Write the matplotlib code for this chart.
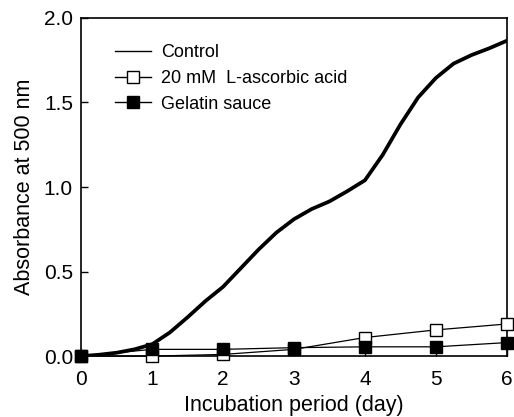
import matplotlib.pyplot as plt
from matplotlib.lines import Line2D

plt.rcParams['font.family'] = ['Liberation Sans', 'DejaVu Sans']

# Control curve (smooth)
ctrl_x = [0, 0.25, 0.5, 0.75, 1.0, 1.25, 1.5, 1.75, 2.0, 2.25, 2.5, 2.75, 3.0,
          3.25, 3.5, 3.75, 4.0, 4.25, 4.5, 4.75, 5.0, 5.25, 5.5, 5.75, 6.0]
ctrl_y = [0.0, 0.008, 0.02, 0.04, 0.07, 0.14, 0.23, 0.325, 0.41, 0.52, 0.63, 0.73, 0.81,
          0.87, 0.915, 0.975, 1.04, 1.19, 1.37, 1.53, 1.645, 1.73, 1.78, 1.82, 1.865]

days = [0, 1, 2, 3, 4, 5, 6]
ascorbic = [0.0, 0.0, 0.01, 0.04, 0.11, 0.155, 0.19]
gelatin = [0.0, 0.04, 0.04, 0.05, 0.055, 0.055, 0.08]

fig = plt.figure(figsize=(5.14, 4.17), dpi=100)
ax = fig.add_axes([0.158, 0.146, 0.828, 0.811])

ax.plot(ctrl_x, ctrl_y, color='black', lw=2.7, solid_joinstyle='round', zorder=2)
ax.plot(days, ascorbic, color='black', lw=0.9, marker='s', ms=8, mfc='white', mec='black',
        mew=1.0, zorder=3, clip_on=False)
ax.plot(days, gelatin, color='black', lw=0.9, marker='s', ms=8, mfc='black', mec='black',
        mew=1.0, zorder=4, clip_on=False)

ax.set_xlim(0, 6)
ax.set_ylim(0, 2.0)
ax.set_xticks(range(0, 7))
ax.set_yticks([0.0, 0.5, 1.0, 1.5, 2.0])
ax.set_yticklabels(['0.0', '0.5', '1.0', '1.5', '2.0'])
ax.tick_params(direction='in', length=5, width=1, labelsize=15)
ax.tick_params(axis='x', pad=10)
ax.tick_params(axis='y', pad=6)
for s in ax.spines.values():
    s.set_linewidth(1.2)

ax.set_xlabel('Incubation period (day)', fontsize=15.5, labelpad=4)
ax.set_ylabel('Absorbance at 500 nm', fontsize=15.5, labelpad=6)

handles = [
    Line2D([], [], color='black', lw=1.0),
    Line2D([], [], color='black', lw=1.0, marker='s', ms=8, mfc='white', mec='black'),
    Line2D([], [], color='black', lw=1.0, marker='s', ms=8, mfc='black', mec='black'),
]
labels = ['Control', '20 mM  L-ascorbic acid', 'Gelatin sauce']
ax.legend(handles, labels, loc='upper left', bbox_to_anchor=(0.042, 0.97), frameon=False,
          fontsize=13, handlelength=1.95, handletextpad=0.6, labelspacing=0.48)

plt.savefig('out.png', dpi=100)
